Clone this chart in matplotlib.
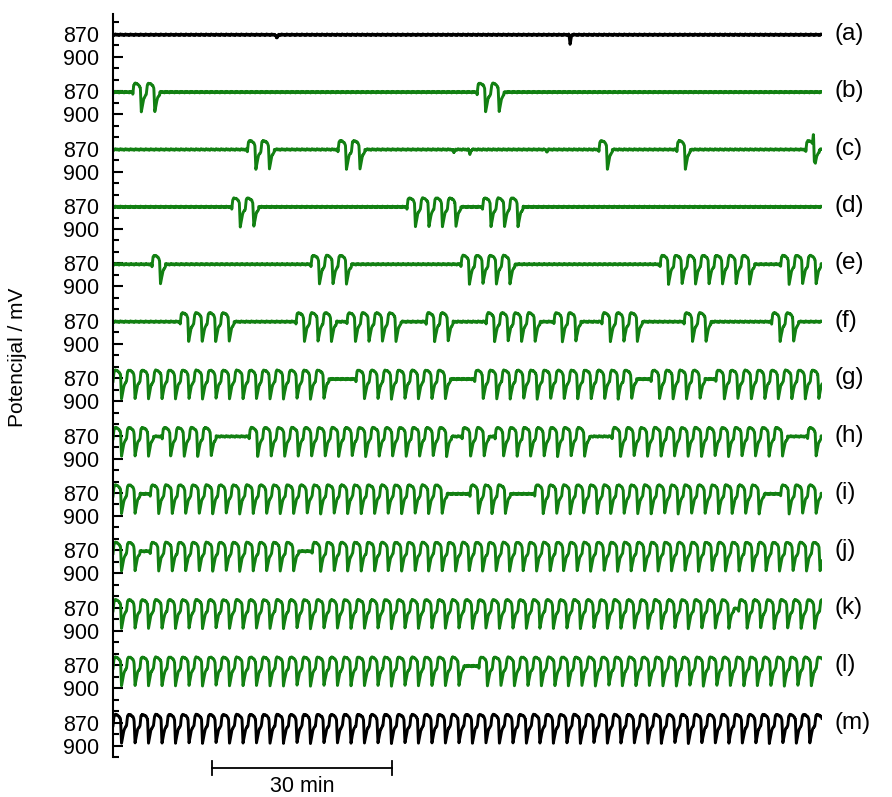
import numpy as np
import matplotlib
matplotlib.use("Agg")
import matplotlib.pyplot as plt
import matplotlib.transforms as mtransforms

plt.rcParams['font.family'] = ['Liberation Sans', 'DejaVu Sans']

# ---------------- data ----------------
labels = ["(a)", "(b)", "(c)", "(d)", "(e)", "(f)", "(g)", "(h)", "(i)", "(j)", "(k)", "(l)", "(m)"]
colors = ["black"] + ["#128012"] * 11 + ["black"]

t_end_min = 118.2          # length of each record, min
period_min = 2.25          # duration of one oscillation, min
baseline_mv = 871.0

# one oscillation cycle: phase fraction -> potential (mV)
cycle_phase = [0.00, 0.07, 0.15, 0.30, 0.48, 0.56, 0.63, 0.71, 0.82, 1.00]
cycle_mv    = [874.0, 862.0, 859.5, 860.0, 862.5, 866.0, 897.0, 889.0, 879.0, 874.0]

# small baseline ripple (mV), repeated along the record
ripple_mv = [0.0, 1.0, 0.2, -0.8, 0.0, 0.6, -0.4]
ripple_step_min = 0.12

# bursts: (start time in min, number of cycles)
bursts_a = []
bursts_b = [(3.3, 2), (60.7, 2)]
bursts_c = [(22.4, 2), (37.5, 2), (81.0, 1), (94.0, 1), (115.5, 1)]
bursts_d = [(19.8, 2), (49.0, 4), (61.6, 3)]
bursts_e = [(6.5, 1), (33.0, 3), (58.0, 4), (91.2, 7), (111.3, 3)]
bursts_f = [(11.2, 4), (30.5, 3), (39.0, 4), (52.2, 2), (62.2, 4), (73.5, 2),
            (81.5, 3), (95.2, 2), (109.8, 2)]
bursts_g = [(0.0, 16), (40.5, 7), (60.3, 12), (89.7, 4), (100.5, 8)]
bursts_h = [(0.0, 3), (8.2, 4), (22.7, 15), (58.2, 2), (63.7, 7), (83.2, 13), (115.8, 1)]
bursts_i = [(0.0, 2), (6.2, 22), (59.5, 3), (70.3, 17), (111.3, 3)]
bursts_j = [(0.0, 2), (6.2, 11), (33.2, 38)]
bursts_k = [(0.0, 46), (104.3, 7)]
bursts_l = [(0.0, 26), (61.0, 26)]
bursts_m = [(0.0, 53)]

# isolated blips: (time in min, deflection in mV; positive = downward in plot)
blips_a = [(27.3, 5.0), (76.2, 12.0)]
blips_c = [(56.8, 4.0), (59.5, 6.0), (72.3, 3.0), (116.8, -18.0)]

all_bursts = [bursts_a, bursts_b, bursts_c, bursts_d, bursts_e, bursts_f, bursts_g,
              bursts_h, bursts_i, bursts_j, bursts_k, bursts_l, bursts_m]
all_blips = [blips_a, [], blips_c] + [[] for _ in range(10)]

trace_offset_mv = 75.0
tick_values = [870, 900]
scale_bar_min = (16.5, 46.5)

# ---------------- build traces ----------------
t = np.arange(0.0, t_end_min, 0.02)
rip_idx = (np.floor(t / ripple_step_min).astype(int)) % len(ripple_mv)
ripple = np.array(ripple_mv)[rip_idx]


def build_trace(bursts, blips):
    y = baseline_mv + ripple.copy()
    for start, n in bursts:
        for k in range(n):
            t0 = start + k * period_min
            m = (t >= t0) & (t < t0 + period_min)
            ph = (t[m] - t0) / period_min
            y[m] = np.interp(ph, cycle_phase, cycle_mv) + 0.5 * ripple[m]
    for tb, d in blips:
        y += np.interp(t, [tb - 0.2, tb, tb + 0.3], [0.0, d, 0.0], left=0.0, right=0.0)
    return y


W, H = 892, 797
fig = plt.figure(figsize=(W / 100, H / 100), dpi=100)
ax_left, ax_right, ax_top, ax_bot = 113, 822, 14, 757
ax = fig.add_axes([ax_left / W, 1 - ax_bot / H, (ax_right - ax_left) / W, (ax_bot - ax_top) / H])

for i, (bursts, blips) in enumerate(zip(all_bursts, all_blips)):
    y = build_trace(bursts, blips)
    ax.plot(t, y + i * trace_offset_mv, color=colors[i], lw=2.1, solid_joinstyle='round')

n = len(labels)
ax.set_xlim(0, t_end_min)
ax.set_ylim(844 + (n - 1) * trace_offset_mv + 41.5, 844)

major = []
major_lab = []
for i in range(n):
    for v in tick_values:
        major.append(v + i * trace_offset_mv)
        major_lab.append(str(v))
ax.set_yticks(major)
ax.set_yticklabels(major_lab)
ax.set_yticks(np.arange(855, 855 + n * trace_offset_mv, 15), minor=True)
ax.tick_params(axis='y', which='major', direction='in', length=7.5, width=1.5,
               labelsize=15.5, pad=10)
ax.tick_params(axis='y', which='minor', direction='in', length=4, width=1.5)
ax.set_xticks([])
for s in ['top', 'right', 'bottom']:
    ax.spines[s].set_visible(False)
ax.spines['left'].set_linewidth(1.5)

# panel labels
blend = mtransforms.blended_transform_factory(ax.transAxes, ax.transData)
for i, lab in enumerate(labels):
    ax.text(1.018, 870 + i * trace_offset_mv, lab, transform=blend,
            ha='left', va='center', fontsize=17.5, clip_on=False)

# y label
fig.text(18 / W, 1 - 357 / H, "Potencijal / mV", rotation=90, ha='center', va='center', fontsize=15)

# scale bar
trans = mtransforms.blended_transform_factory(ax.transData, ax.transAxes)
yb = -(768 - ax_bot) / (ax_bot - ax_top)
cap = 7 / (ax_bot - ax_top)
ax.plot(list(scale_bar_min), [yb, yb], color='black', lw=1.3, transform=trans, clip_on=False)
for xs in scale_bar_min:
    ax.plot([xs, xs], [yb - cap, yb + cap], color='black', lw=1.3, transform=trans, clip_on=False)
ax.text(np.mean(scale_bar_min), -(786 - ax_bot) / (ax_bot - ax_top), "30 min", transform=trans,
        ha='center', va='center', fontsize=15.5, clip_on=False)

fig.savefig("out.png", dpi=100)
